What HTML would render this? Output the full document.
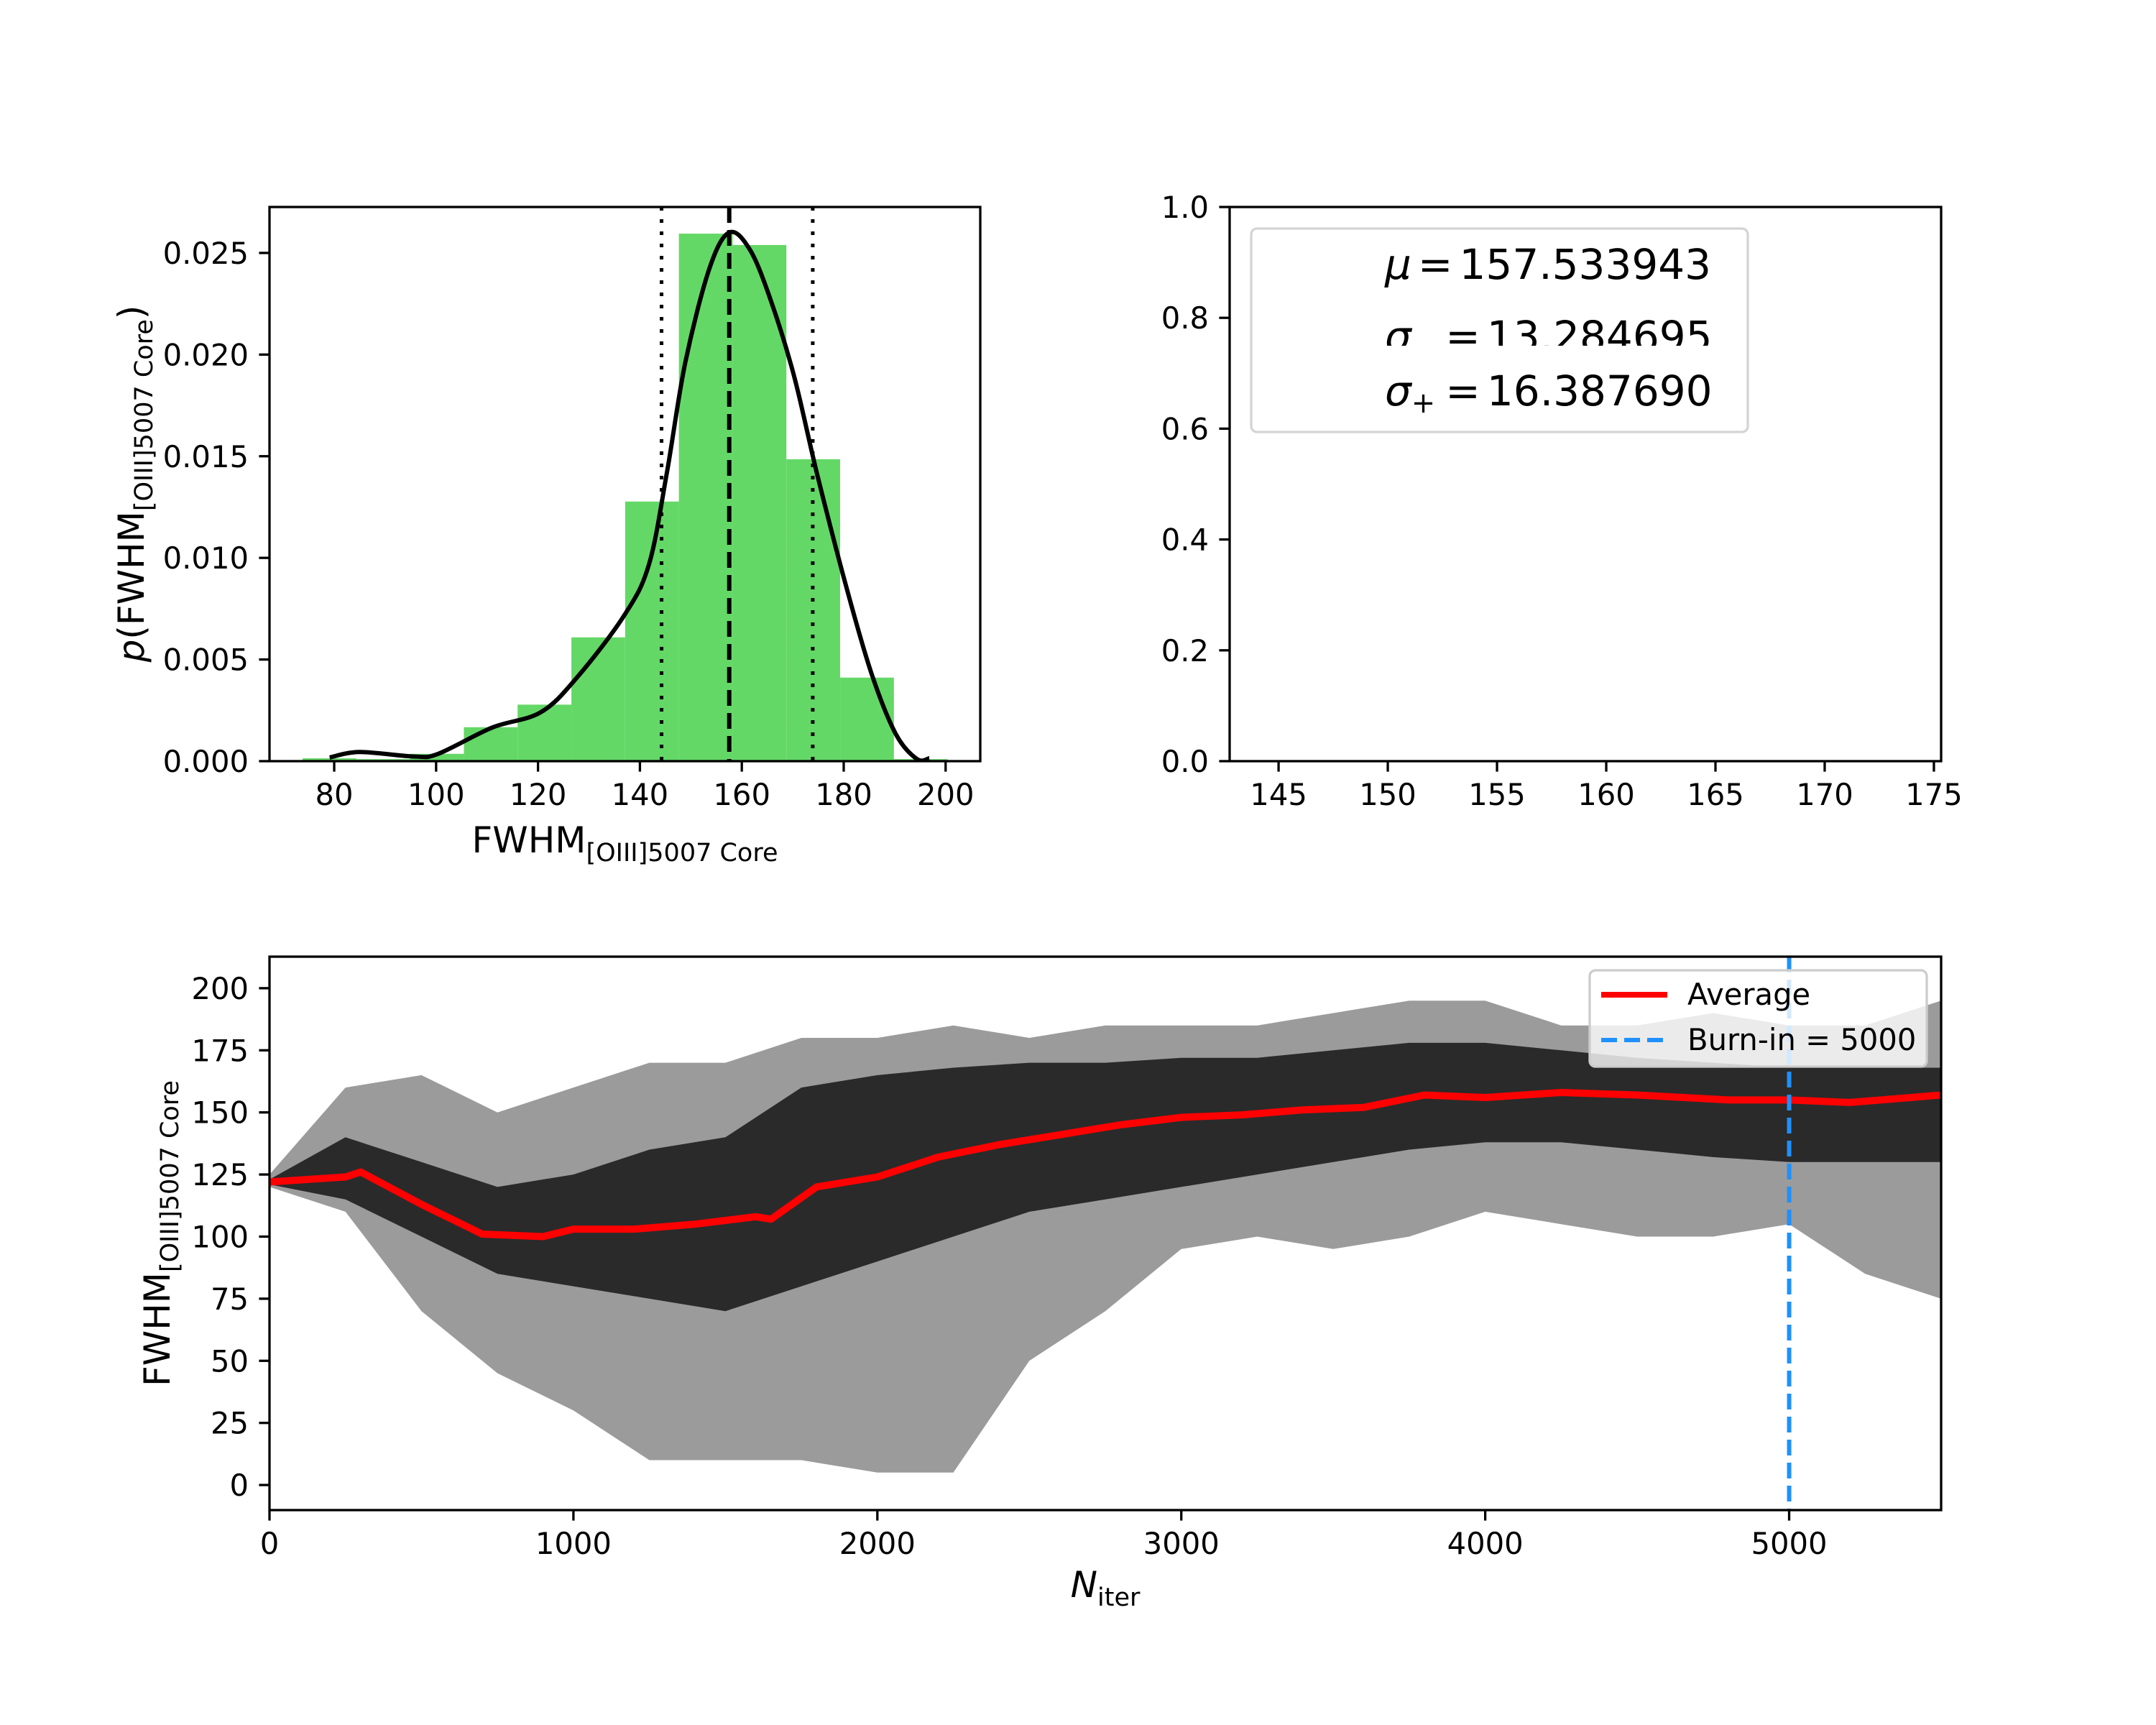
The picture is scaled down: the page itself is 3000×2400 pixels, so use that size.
<!DOCTYPE html>
<html><head><meta charset="utf-8"><style>
html,body{margin:0;padding:0;background:#fff}
svg{display:block}
text{font-family:"DejaVu Sans","Liberation Sans",sans-serif;fill:#000}
</style></head><body>
<svg id="fig" xmlns="http://www.w3.org/2000/svg" width="3000" height="2400" viewBox="0 0 3000 2400">
<rect x="0" y="0" width="3000" height="2400" fill="#fff"/>
<defs>
<clipPath id="c1"><rect x="375" y="288" width="989" height="771"/></clipPath>
<clipPath id="c3"><rect x="375" y="1331" width="2326" height="770"/></clipPath>
<clipPath id="csig"><rect x="1700" y="300" width="800" height="181"/></clipPath>
</defs>
<g id="hist"></g>
<g id="stat"></g>
<g id="trace"></g>
</svg>
<script>
// ---------- data ----------
const histStart = 73.8, histWidth = 10.55;
const histHeights = [0.00014,0.0001,0.00036,0.00167,0.00278,0.00609,0.01277,0.02595,0.02539,0.01485,0.00411,0.0001];
const kdeX = [79.1,85.0,95.6,100.4,111.0,120.5,127.6,137.0,141.8,145.3,148.9,153.6,157.5,161.5,165.5,170.2,174.9,180.8,185.6,190.3,194.4,196.8];
const kdeY = [0.00018,0.00045,0.00023,0.00036,0.00165,0.0024,0.0041,0.0072,0.0097,0.0142,0.0196,0.0242,0.0260,0.0252,0.0228,0.0190,0.0140,0.0083,0.0042,0.0013,0.0001,0.00014];
const muVal = 157.533943, sigMinus = 13.284695, sigPlus = 16.387690;
const histXTicks = [80,100,120,140,160,180,200];
const histYTicks = [0,0.005,0.010,0.015,0.020,0.025];
const histYLabels = ["0.000","0.005","0.010","0.015","0.020","0.025"];
const statXTicks = [145,150,155,160,165,170,175];
const statYTicks = [0,0.2,0.4,0.6,0.8,1.0];
const statYLabels = ["0.0","0.2","0.4","0.6","0.8","1.0"];
const envIter = [0,250,500,750,1000,1250,1500,1750,2000,2250,2500,2750,3000,3250,3500,3750,4000,4250,4500,4750,5000,5250,5500];
const outerMax = [125,160,165,150,160,170,170,180,180,185,180,185,185,185,190,195,195,185,185,190,185,185,195];
const outerMin = [120,110,70,45,30,10,10,10,5,5,50,70,95,100,95,100,110,105,100,100,105,85,75];
const coreMax = [123,140,130,120,125,135,140,160,165,168,170,170,172,172,175,178,178,175,172,170,168,168,168];
const coreMin = [121,115,100,85,80,75,70,80,90,100,110,115,120,125,130,135,138,138,135,132,130,130,130];
const avgIter = [0,250,300,500,700,900,1000,1200,1400,1600,1650,1800,2000,2200,2400,2600,2800,3000,3200,3400,3600,3800,4000,4250,4500,4800,5000,5200,5500];
const avgVal = [122,124,126,113,101,100,103,103,105,108,107,120,124,132,137,141,145,148,149,151,152,157,156,158,157,155,155,154,157];
const burnIn = 5000;
const traceXTicks = [0,1000,2000,3000,4000,5000];
const traceYTicks = [0,25,50,75,100,125,150,175,200];

const NS = "http://www.w3.org/2000/svg";
function mk(parent, tag, attrs, txt){
  const e = document.createElementNS(NS, tag);
  for (const k in attrs) e.setAttribute(k, attrs[k]);
  if (txt !== undefined) e.textContent = txt;
  parent.appendChild(e); return e;
}
function smooth(pts){
  let d = 'M'+pts[0][0].toFixed(1)+','+pts[0][1].toFixed(1);
  for (let i=0;i<pts.length-1;i++){
    const p0=pts[Math.max(0,i-1)], p1=pts[i], p2=pts[i+1], p3=pts[Math.min(pts.length-1,i+2)];
    const c1=[p1[0]+(p2[0]-p0[0])/6, p1[1]+(p2[1]-p0[1])/6];
    const c2=[p2[0]-(p3[0]-p1[0])/6, p2[1]-(p3[1]-p1[1])/6];
    d += ' C'+c1[0].toFixed(1)+','+c1[1].toFixed(1)+' '+c2[0].toFixed(1)+','+c2[1].toFixed(1)+' '+p2[0].toFixed(1)+','+p2[1].toFixed(1);
  }
  return d;
}
const FS = 41.7, TL = 14.6;

// ---------- histogram panel ----------
(function(){
  const g = document.getElementById('hist');
  const L=375,R=1364,T=288,B=1059, x0=67.3,x1=206.8,y1=0.02726;
  const X=v=>L+(v-x0)/(x1-x0)*(R-L), Y=d=>B-d/y1*(B-T);
  const cg = mk(g,'g',{'clip-path':'url(#c1)'});
  histHeights.forEach((h,i)=>{
    const a=histStart+i*histWidth;
    const r = mk(cg,'rect',{x:X(a),y:Y(h),width:X(a+histWidth)-X(a),height:B-Y(h),fill:'#64d866'});
    
    
  });
  const kl = mk(cg,'path',{d:smooth(kdeX.map((v,i)=>[X(v),Y(kdeY[i])])),fill:'none',stroke:'#000','stroke-width':6,'stroke-linejoin':'round'});
  
  
  [[muVal-sigMinus,'5,12','lower-sigma-line'],[muVal,'22,10','mean-line'],[muVal+sigPlus,'5,12','upper-sigma-line']].forEach(([v,d,n])=>{
    const ln = mk(cg,'line',{x1:X(v),x2:X(v),y1:T,y2:B,stroke:'#000','stroke-width':n==='mean-line'?6:5,'stroke-dasharray':d});
    
    
  });
  mk(g,'rect',{x:L,y:T,width:R-L,height:B-T,fill:'none',stroke:'#000','stroke-width':3.3,});
  histXTicks.forEach(v=>{
    mk(g,'line',{x1:X(v),x2:X(v),y1:B,y2:B+TL,stroke:'#000','stroke-width':3.3});
    const t = mk(g,'text',{x:X(v),y:B+61,'font-size':FS,'text-anchor':'middle'},String(v));
    
    
  });
  histYTicks.forEach((v,i)=>{
    mk(g,'line',{x1:L-TL,x2:L,y1:Y(v),y2:Y(v),stroke:'#000','stroke-width':3.3});
    const t = mk(g,'text',{x:L-29,y:Y(v)+15,'font-size':FS,'text-anchor':'end'},histYLabels[i]);
    
    
  });
  const xl = mk(g,'text',{x:(L+R)/2,y:1186,'font-size':50,'text-anchor':'middle',});
  xl.innerHTML='FWHM<tspan font-size="35" dy="12">[OIII]5007 Core</tspan>';
  const yl = mk(g,'text',{x:0,y:0,'font-size':50,'text-anchor':'middle',transform:'translate(200,673) rotate(-90)',});
  yl.innerHTML='<tspan font-style="italic">p</tspan>(FWHM<tspan font-size="35" dy="12">[OIII]5007 Core</tspan><tspan dy="-12">)</tspan>';
})();

// ---------- stats panel ----------
(function(){
  const g = document.getElementById('stat');
  const L=1711,R=2701,T=288,B=1059,x0=142.76,x1=175.33;
  const X=v=>L+(v-x0)/(x1-x0)*(R-L), Y=v=>B-v*(B-T);
  mk(g,'rect',{x:L,y:T,width:R-L,height:B-T,fill:'none',stroke:'#000','stroke-width':3.3,});
  statXTicks.forEach(v=>{
    mk(g,'line',{x1:X(v),x2:X(v),y1:B,y2:B+TL,stroke:'#000','stroke-width':3.3});
    const t = mk(g,'text',{x:X(v),y:B+61,'font-size':FS,'text-anchor':'middle'},String(v));
    
    
  });
  statYTicks.forEach((v,i)=>{
    mk(g,'line',{x1:L-TL,x2:L,y1:Y(v),y2:Y(v),stroke:'#000','stroke-width':3.3});
    const t = mk(g,'text',{x:L-29,y:Y(v)+15,'font-size':FS,'text-anchor':'end'},statYLabels[i]);
    
    
  });
  mk(g,'rect',{x:1741,y:318,width:691,height:283,rx:8,fill:'#fff',stroke:'#d4d4d4','stroke-width':3.3,});
  const t1 = mk(g,'text',{x:1927,y:388,'font-size':58,});
  t1.innerHTML='<tspan font-style="italic">μ</tspan><tspan dx="9">=</tspan><tspan dx="9">'+muVal.toFixed(6)+'</tspan>';
  const t2 = mk(g,'text',{x:1927,y:488,'font-size':58,'clip-path':'url(#csig)',});
  t2.innerHTML='<tspan font-style="italic">σ</tspan><tspan font-size="40" dy="10">−</tspan><tspan dy="-10" dx="14">=</tspan><tspan dx="9">'+sigMinus.toFixed(6)+'</tspan>';
  const t3 = mk(g,'text',{x:1927,y:564,'font-size':58,});
  t3.innerHTML='<tspan font-style="italic">σ</tspan><tspan font-size="40" dy="10">+</tspan><tspan dy="-10" dx="14">=</tspan><tspan dx="9">'+sigPlus.toFixed(6)+'</tspan>';
})();

// ---------- trace panel ----------
(function(){
  const g = document.getElementById('trace');
  const L=375,R=2701,T=1331,B=2101,y0=-10.1,y1=212.7;
  const X=i=>L+i/5500*(R-L), Y=v=>B-(v-y0)/(y1-y0)*(B-T);
  const cg = mk(g,'g',{'clip-path':'url(#c3)'});
  function band(up,lo){
    const a = envIter.map((it,k)=>X(it).toFixed(1)+','+Y(up[k]).toFixed(1));
    const b = envIter.map((it,k)=>X(it).toFixed(1)+','+Y(lo[k]).toFixed(1)).reverse();
    return a.concat(b).join(' ');
  }
  const ob = mk(cg,'polygon',{points:band(outerMax,outerMin),fill:'#7a7a7a','fill-opacity':0.75});
  
  
  const cb = mk(cg,'polygon',{points:band(coreMax,coreMin),fill:'#1e1e1e','fill-opacity':0.9});
  
  
  const ap = avgIter.map((it,k)=>X(it).toFixed(1)+','+Y(avgVal[k]).toFixed(1)).join(' ');
  const al = mk(cg,'polyline',{points:ap,fill:'none',stroke:'#ff0000','stroke-width':10,'stroke-linejoin':'round'});
  
  
  const bl = mk(cg,'line',{x1:X(burnIn),x2:X(burnIn),y1:T,y2:B,stroke:'#1e90ff','stroke-width':6,'stroke-dasharray':'22,10'});
  
  
  mk(g,'rect',{x:L,y:T,width:R-L,height:B-T,fill:'none',stroke:'#000','stroke-width':3.3,});
  traceXTicks.forEach(v=>{
    mk(g,'line',{x1:X(v),x2:X(v),y1:B,y2:B+TL,stroke:'#000','stroke-width':3.3});
    const t = mk(g,'text',{x:X(v),y:B+61,'font-size':FS,'text-anchor':'middle'},String(v));
    
    
  });
  traceYTicks.forEach(v=>{
    mk(g,'line',{x1:L-TL,x2:L,y1:Y(v),y2:Y(v),stroke:'#000','stroke-width':3.3});
    const t = mk(g,'text',{x:L-29,y:Y(v)+15,'font-size':FS,'text-anchor':'end'},String(v));
    
    
  });
  mk(g,'rect',{x:2212,y:1350,width:469,height:134,rx:8,fill:'#fff','fill-opacity':0.8,stroke:'#cccccc','stroke-width':3.3,});
  mk(g,'line',{x1:2228,x2:2320,y1:1384,y2:1384,stroke:'#ff0000','stroke-width':8,});
  mk(g,'text',{x:2348,y:1398,'font-size':FS,},'Average');
  mk(g,'line',{x1:2228,x2:2320,y1:1447,y2:1447,stroke:'#1e90ff','stroke-width':6,'stroke-dasharray':'22,10',});
  mk(g,'text',{x:2348,y:1461,'font-size':FS,},'Burn-in = 5000');
  const xl = mk(g,'text',{x:(L+R)/2,y:2222,'font-size':50,'text-anchor':'middle',});
  xl.innerHTML='<tspan font-style="italic">N</tspan><tspan font-size="35" dy="12">iter</tspan>';
  const yl = mk(g,'text',{x:0,y:0,'font-size':50,'text-anchor':'middle',transform:'translate(236,1716) rotate(-90)',});
  yl.innerHTML='FWHM<tspan font-size="35" dy="12">[OIII]5007 Core</tspan>';
})();
</script>
</body></html>
